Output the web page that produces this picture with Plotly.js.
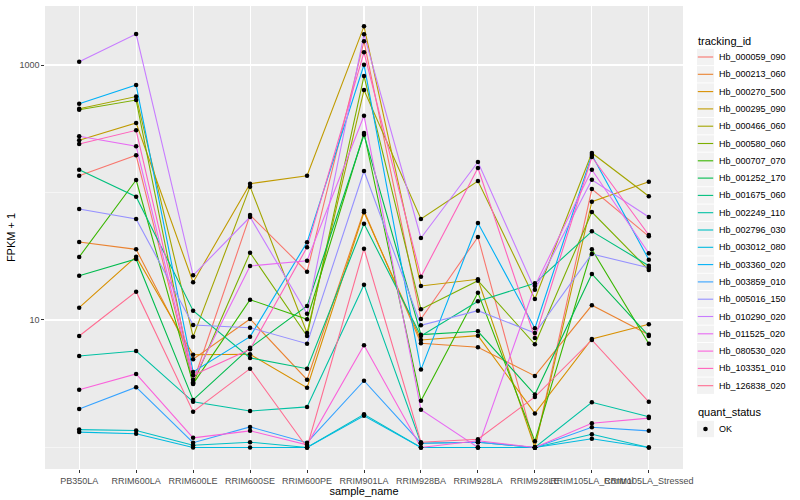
<!DOCTYPE html>
<html>
<head>
<meta charset="utf-8">
<script src="https://cdn.plot.ly/plotly-3.0.1.min.js"></script>
<style>html,body{margin:0;padding:0;background:#fff;}#chart{width:800px;height:500px;}</style>
</head>
<body>
<div id="chart"></div>
<script>
const categories = ['PB350LA','RRIM600LA','RRIM600LE','RRIM600SE','RRIM600PE','RRIM901LA','RRIM928BA','RRIM928LA','RRIM928LE','RRIM105LA_Control','RRIM105LA_Stressed'];

const trackingIds = ['Hb_000059_090','Hb_000213_060','Hb_000270_500','Hb_000295_090','Hb_000466_060','Hb_000580_060','Hb_000707_070','Hb_001252_170','Hb_001675_060','Hb_002249_110','Hb_002796_030','Hb_003012_080','Hb_003360_020','Hb_003859_010','Hb_005016_150','Hb_010290_020','Hb_011525_020','Hb_080530_020','Hb_103351_010','Hb_126838_020'];

const Hb_000059_090 = [135.5, 195.7, 3.25, 66.6, 23.9, 1534, 10.18, 44.8, 1.0, 106.5, 45.3];
const Hb_000213_060 = [40.9, 35.8, 4.92, 10.18, 3.40, 72.0, 6.57, 6.11, 3.64, 13.04, 7.67];
const Hb_000270_500 = [12.49, 31.4, 5.34, 5.38, 2.94, 69.9, 6.97, 7.53, 1.85, 7.10, 9.25];
const Hb_000295_090 = [256.7, 350.9, 19.75, 117.2, 135.5, 2011, 18.48, 20.85, 1.0, 84.7, 121.5];
const Hb_000466_060 = [454.3, 566, 7.40, 111.1, 7.91, 636.6, 62.0, 123.1, 14.61, 204.1, 93.4];
const Hb_000580_060 = [446.1, 531.4, 3.17, 33.7, 7.49, 819.7, 12.13, 20.33, 6.45, 70.3, 24.67];
const Hb_000707_070 = [31.2, 125.3, 3.15, 14.43, 10.13, 292.9, 2.32, 16.38, 1.12, 35.8, 6.52];
const Hb_001252_170 = [22.26, 30.09, 2.36, 6.06, 12.88, 284.0, 7.67, 8.15, 2.60, 22.95, 7.49];
const Hb_001675_060 = [150.9, 92.7, 11.83, 5.04, 4.15, 56.9, 7.49, 14.02, 19.4, 49.6, 26.66];
const Hb_002249_110 = [5.22, 5.71, 2.28, 1.93, 2.08, 18.92, 1.08, 1.10, 1.0, 2.26, 1.74];
const Hb_002796_030 = [1.38, 1.36, 1.04, 1.10, 1.0, 1.82, 1.0, 1.0, 1.0, 1.27, 1.0];
const Hb_003012_080 = [1.32, 1.28, 1.0, 1.0, 1.0, 1.77, 1.0, 1.0, 1.0, 1.17, 1.0];
const Hb_003360_020 = [497.1, 696.7, 3.91, 7.40, 40.68, 1005.5, 4.08, 57.66, 8.61, 196.9, 29.71];
const Hb_003859_010 = [2.00, 2.97, 1.09, 1.45, 1.09, 3.34, 1.08, 1.10, 1.0, 1.44, 1.35];
const Hb_005016_150 = [74.2, 62.0, 9.14, 8.70, 6.52, 147.4, 9.09, 11.83, 7.91, 32.93, 25.72];
const Hb_010290_020 = [1061, 1751, 22.42, 64.24, 11.2, 1741, 43.97, 173.5, 17.28, 126.0, 64.24];
const Hb_011525_020 = [275.9, 230.4, 3.40, 26.51, 29.18, 400.4, 1.98, 1.0, 18.48, 150.9, 33.35];
const Hb_080530_020 = [2.84, 3.77, 1.19, 1.35, 1.05, 6.33, 1.0, 1.13, 1.0, 1.55, 1.70];
const Hb_103351_010 = [240.2, 307.4, 3.68, 5.89, 37.17, 1258, 21.86, 155.7, 7.23, 189.8, 46.42];
const Hb_126838_020 = [7.49, 16.67, 1.91, 4.15, 1.0, 36.24, 1.10, 1.16, 2.49, 6.97, 2.28];

const seriesValues = [Hb_000059_090, Hb_000213_060, Hb_000270_500, Hb_000295_090, Hb_000466_060, Hb_000580_060, Hb_000707_070, Hb_001252_170, Hb_001675_060, Hb_002249_110, Hb_002796_030, Hb_003012_080, Hb_003360_020, Hb_003859_010, Hb_005016_150, Hb_010290_020, Hb_011525_020, Hb_080530_020, Hb_103351_010, Hb_126838_020];

const quantStatus = ['OK'];

const colors = ['#F8766D','#EA8331','#D89000','#C09B00','#A3A500','#7CAE00','#39B600','#00BB4E','#00BF7D','#00C1A3','#00BFC4','#00BAE0','#00B0F6','#35A2FF','#9590FF','#C77CFF','#E76BF3','#FA62DB','#FF62BC','#FF6C91'];

const traces = [];
trackingIds.forEach((id, i) => {
  traces.push({
    type: 'scatter', mode: 'lines', name: id,
    x: categories, y: seriesValues[i],
    line: {color: colors[i], width: 1.1},
    hoverinfo: 'skip', showlegend: false
  });
});
const px = [], py = [];
seriesValues.forEach(vals => vals.forEach((v, j) => { px.push(categories[j]); py.push(v); }));
traces.push({
  type: 'scatter', mode: 'markers', name: quantStatus[0],
  x: px, y: py,
  marker: {color: '#000', size: 4.5},
  hoverinfo: 'skip', showlegend: false
});

// Legend drawn in pixel space, converted to paper coordinates
const W = 800, H = 500, ML = 45, MR = 117, MT = 6, MB = 31;
const PW = W - ML - MR, PH = H - MT - MB;
const fx = p => (p - ML) / PW;
const fy = p => (H - MB - p) / PH;

const font = 'Liberation Sans, Arial, sans-serif';
const shapes = [], annotations = [];
const keyX0 = 697, keyX1 = 714, textX = 716.5;
annotations.push({xref: 'paper', yref: 'paper', x: fx(696), y: fy(40.7), xanchor: 'left', yanchor: 'middle',
  text: 'tracking_id', showarrow: false, font: {family: font, size: 11, color: '#000'}});
trackingIds.forEach((id, i) => {
  const cy = 57 + 17.3 * i;
  shapes.push({type: 'rect', xref: 'paper', yref: 'paper', x0: fx(keyX0), x1: fx(keyX1), y0: fy(cy - 8.2), y1: fy(cy + 8.2),
    fillcolor: '#F2F2F2', line: {width: 0}, layer: 'below'});
  shapes.push({type: 'line', xref: 'paper', yref: 'paper', x0: fx(keyX0 + 0.8), x1: fx(keyX1 - 0.8), y0: fy(cy), y1: fy(cy),
    line: {color: colors[i], width: 1.1}});
  annotations.push({xref: 'paper', yref: 'paper', x: fx(textX), y: fy(cy), xanchor: 'left', yanchor: 'middle',
    text: id, showarrow: false, font: {family: font, size: 9, color: '#000'}});
});
annotations.push({xref: 'paper', yref: 'paper', x: fx(696), y: fy(412.3), xanchor: 'left', yanchor: 'middle',
  text: 'quant_status', showarrow: false, font: {family: font, size: 11, color: '#000'}});
const okY = 429;
shapes.push({type: 'rect', xref: 'paper', yref: 'paper', x0: fx(keyX0), x1: fx(keyX1), y0: fy(okY - 8.2), y1: fy(okY + 8.2),
  fillcolor: '#F2F2F2', line: {width: 0}, layer: 'below'});
shapes.push({type: 'circle', xref: 'paper', yref: 'paper', x0: fx(705.5 - 2.3), x1: fx(705.5 + 2.3), y0: fy(okY - 2.3), y1: fy(okY + 2.3),
  fillcolor: '#000', line: {width: 0}});
annotations.push({xref: 'paper', yref: 'paper', x: fx(textX), y: fy(okY), xanchor: 'left', yanchor: 'middle',
  text: quantStatus[0], showarrow: false, font: {family: font, size: 9, color: '#000'}});

const layout = {
  width: W, height: H,
  margin: {l: ML, r: MR, t: MT, b: MB},
  paper_bgcolor: '#fff', plot_bgcolor: '#EBEBEB',
  font: {family: font, size: 9, color: '#4D4D4D'},
  showlegend: false,
  shapes: shapes, annotations: annotations,
  xaxis: {
    type: 'category', range: [-0.6, 10.6], tickangle: 0,
    showgrid: true, gridcolor: '#fff', gridwidth: 1.1,
    zeroline: false, showline: false,
    ticks: 'outside', ticklen: 2.7, tickcolor: '#333', tickwidth: 1,
    tickfont: {family: font, size: 9, color: '#4D4D4D'},
    title: {text: 'sample_name', font: {family: font, size: 11, color: '#000'}, standoff: 1}
  },
  yaxis: {
    type: 'log', range: [-0.169, 3.463],
    tickmode: 'array', tickvals: [10, 1000], ticktext: ['10', '1000'],
    showgrid: true, gridcolor: '#fff', gridwidth: 1.1,
    minor: {tickmode: 'array', tickvals: [1, 100], showgrid: true, gridcolor: '#fff', gridwidth: 0.5, ticks: ''},
    zeroline: false, showline: false,
    ticks: 'outside', ticklen: 2.7, tickcolor: '#333', tickwidth: 1,
    tickfont: {family: font, size: 9, color: '#4D4D4D'},
    title: {text: 'FPKM + 1', font: {family: font, size: 11, color: '#000'}, standoff: 1}
  }
};
Plotly.newPlot('chart', traces, layout, {staticPlot: true, displayModeBar: false});
</script>
</body>
</html>
